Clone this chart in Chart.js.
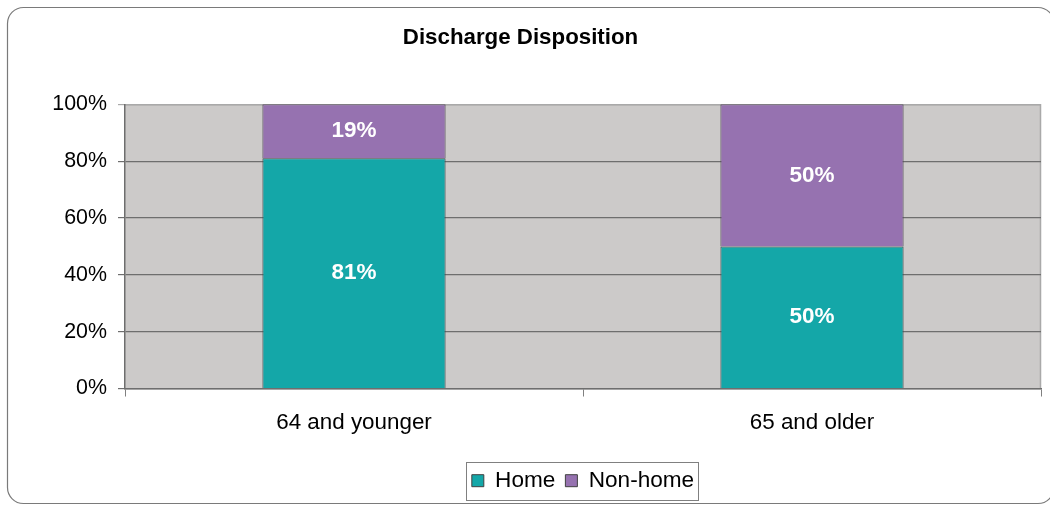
<!DOCTYPE html>
<html>
<head>
<meta charset="utf-8">
<script src="https://cdn.jsdelivr.net/npm/chart.js@4.4.1/dist/chart.umd.min.js"></script>
<style>
  html, body { margin: 0; padding: 0; background: #ffffff; }
  #wrap { position: relative; width: 1050px; height: 506px; }
</style>
</head>
<body>
<div id="wrap"><canvas id="chart" width="1050" height="506"></canvas></div>
<script>
// Age groups and discharge shares (percent)
const categories = ['64 and younger', '65 and older'];
const homeValues = [81, 50];
const nonHomeValues = [19, 50];
const seriesNames = ['Home', 'Non-home'];
const yTicks = [0, 20, 40, 60, 80, 100];

const FONT = "'Liberation Sans', Arial, sans-serif";

// Grey plot background, outer rounded frame and plot border
const framePlugin = {
  id: 'frame',
  beforeDraw(chart) {
    const { ctx, chartArea: a } = chart;
    ctx.save();
    ctx.fillStyle = '#ffffff';
    ctx.fillRect(0, 0, chart.width, chart.height);
    // outer rounded frame
    const x0 = 7.5, y0 = 7.5, x1 = 1054, y1 = 503.5, r = 16;
    ctx.beginPath();
    ctx.moveTo(x0 + r, y0);
    ctx.lineTo(x1 - r, y0);
    ctx.arcTo(x1, y0, x1, y0 + r, r);
    ctx.lineTo(x1, y1 - r);
    ctx.arcTo(x1, y1, x1 - r, y1, r);
    ctx.lineTo(x0 + r, y1);
    ctx.arcTo(x0, y1, x0, y1 - r, r);
    ctx.lineTo(x0, y0 + r);
    ctx.arcTo(x0, y0, x0 + r, y0, r);
    ctx.closePath();
    ctx.strokeStyle = '#7a7a7a';
    ctx.lineWidth = 1.2;
    ctx.stroke();
    // plot area
    ctx.fillStyle = '#cccac9';
    ctx.fillRect(a.left, a.top, a.right - a.left, a.bottom - a.top);
    ctx.strokeStyle = '#a9a9a9';
    ctx.lineWidth = 1.5;
    ctx.beginPath();
    ctx.moveTo(a.left, a.top + 0.5);
    ctx.lineTo(a.right - 0.5, a.top + 0.5);
    ctx.lineTo(a.right - 0.5, a.bottom);
    ctx.stroke();
    ctx.restore();
  },
  afterDraw(chart) {
    // box around the legend items
    const lg = chart.legend;
    if (!lg || !lg.legendHitBoxes || !lg.legendHitBoxes.length) return;
    const boxes = lg.legendHitBoxes;
    let l = Infinity, r = -Infinity, t = Infinity, b = -Infinity;
    boxes.forEach(h => {
      l = Math.min(l, h.left); r = Math.max(r, h.left + h.width);
      t = Math.min(t, h.top); b = Math.max(b, h.top + h.height);
    });
    const cy = (t + b) / 2;
    const ctx = chart.ctx;
    ctx.save();
    ctx.strokeStyle = '#808080';
    ctx.lineWidth = 1;
    ctx.strokeRect(Math.round(l - 6) + 0.5, Math.round(cy - 19) + 0.5, Math.round(r - l + 10), 38);
    ctx.restore();
  }
};

// White value labels centred in each bar segment
const valueLabels = {
  id: 'valueLabels',
  afterDatasetsDraw(chart) {
    const ctx = chart.ctx;
    ctx.save();
    ctx.fillStyle = '#ffffff';
    ctx.font = 'bold 22.5px ' + FONT;
    ctx.textAlign = 'center';
    ctx.textBaseline = 'middle';
    chart.data.datasets.forEach((ds, i) => {
      chart.getDatasetMeta(i).data.forEach((bar, j) => {
        const p = bar.getCenterPoint();
        ctx.fillText(ds.data[j] + '%', p.x, p.y);
      });
    });
    ctx.restore();
  }
};

new Chart(document.getElementById('chart'), {
  type: 'bar',
  data: {
    labels: categories,
    datasets: [
      { label: seriesNames[0], data: homeValues, backgroundColor: '#14a7a8', borderColor: '#3d4a4c', borderWidth: 1 },
      { label: seriesNames[1], data: nonHomeValues, backgroundColor: '#9672b0', borderColor: '#4a4150', borderWidth: 1 }
    ]
  },
  options: {
    responsive: false,
    animation: false,
    layout: { padding: { left: 0, right: 9, top: 0, bottom: 4 } },
    datasets: { bar: { categoryPercentage: 1, barPercentage: 0.4 } },
    plugins: {
      title: {
        display: true,
        text: 'Discharge Disposition',
        color: '#000000',
        font: { family: FONT, size: 22.3, weight: 'bold' },
        padding: { top: 24, bottom: 53.5 }
      },
      legend: {
        position: 'bottom',
        fullSize: false,
        labels: {
          color: '#000000',
          font: { family: FONT, size: 22.6 },
          boxWidth: 12,
          boxHeight: 12,
          padding: 10,
          generateLabels(chart) {
            return chart.data.datasets.map((ds, i) => ({
              text: ds.label,
              fillStyle: ds.backgroundColor,
              strokeStyle: '#404040',
              lineWidth: 1,
              datasetIndex: i,
              hidden: false
            }));
          }
        }
      },
      tooltip: { enabled: false }
    },
    scales: {
      x: {
        stacked: true,
        afterFit(scale) { scale.height += 10; },
        grid: { display: true, drawOnChartArea: false, drawTicks: true, tickLength: 8, color: '#808080', offset: true },
        border: { display: true, color: '#6e6e6e', width: 1.5 },
        ticks: { color: '#000000', font: { family: FONT, size: 22.4 }, padding: 13 }
      },
      y: {
        stacked: true,
        min: 0,
        max: 100,
        afterFit(scale) { scale.width = 125; },
        afterBuildTicks(scale) { scale.ticks = yTicks.map(v => ({ value: v })); },
        grid: {
          color: ctx => (ctx.tick && ctx.tick.value === 100 ? '#a9a9a9' : '#6e6e6e'),
          lineWidth: 1.2,
          drawTicks: true,
          tickLength: 7
        },
        border: { display: true, color: '#6e6e6e', width: 1.5 },
        ticks: {
          color: '#000000',
          font: { family: FONT, size: 21.4 },
          padding: 11,
          callback: v => v + '%'
        }
      }
    }
  },
  plugins: [framePlugin, valueLabels]
});
</script>
</body>
</html>
